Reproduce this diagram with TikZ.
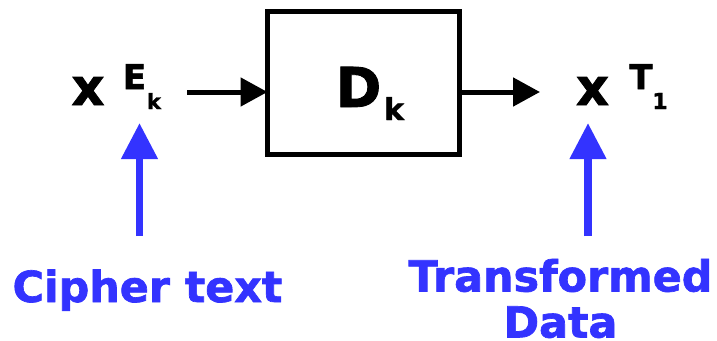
\documentclass[tikz,border=0pt]{standalone}
\usepackage{fontspec}
\setmainfont{DejaVu Sans}
\newfontfamily\heavyfont{DejaVu Sans Bold}[FakeBold=1.6]
\usetikzlibrary{arrows.meta}
\definecolor{labelblue}{RGB}{51,51,255}
\tikzset{
  sym/.style={inner sep=0pt, anchor=base, font=\heavyfont\fontsize{#1}{#1}\selectfont},
  flow/.style={line width=5pt, -{Triangle[length=27pt,width=28pt]}},
  point/.style={labelblue, line width=7.5pt, -{Triangle[length=36pt,width=35pt]}},
  caption/.style={inner sep=0pt, anchor=base, text=labelblue, align=center,
    font=\heavyfont\fontsize{42.8}{46}\selectfont},
}
\begin{document}
\begin{tikzpicture}[x=1pt,y=-1pt]
  \useasboundingbox (0,0) rectangle (717,340);

  % decryption block
  \draw[line width=5pt] (267.5,11.5) rectangle (459.5,154.5);
  \coordinate (boxW) at (267.5,92);
  \coordinate (boxE) at (459.5,92);
  \node[sym=55] (D) at (358.5,107) {D};
  \node[sym=30] (Dk) at (394,120) {k};

  % ciphertext symbol
  \node[sym=51] (xl) at (88,105) {x};
  \node[sym=34] (E) at (134.5,89) {E};
  \node[sym=21] (Ek) at (154,109) {k};

  % transformed data symbol
  \node[sym=51] (xr) at (592.5,105) {x};
  \node[sym=34] (T) at (641,89) {T};
  \node[sym=22] (T1) at (660,109) {1};

  % data flow through the block
  \coordinate (inStart) at (187,92);
  \coordinate (outEnd) at (540,92);
  \draw[flow] (inStart) -- (boxW);
  \draw[flow] (boxE) -- (outEnd);

  % captions and pointers
  \node[caption] (cipher) at (147.5,302) {Cipher text};
  \node[caption] (trans) at (560.5,337.5) {Transformed\\Data};
  \coordinate (cTail) at (139.5,236);
  \coordinate (cTip) at (139.5,123);
  \coordinate (tTail) at (588,236);
  \coordinate (tTip) at (588,123);
  \draw[point] (cTail) -- (cTip);
  \draw[point] (tTail) -- (tTip);
\end{tikzpicture}
\end{document}
